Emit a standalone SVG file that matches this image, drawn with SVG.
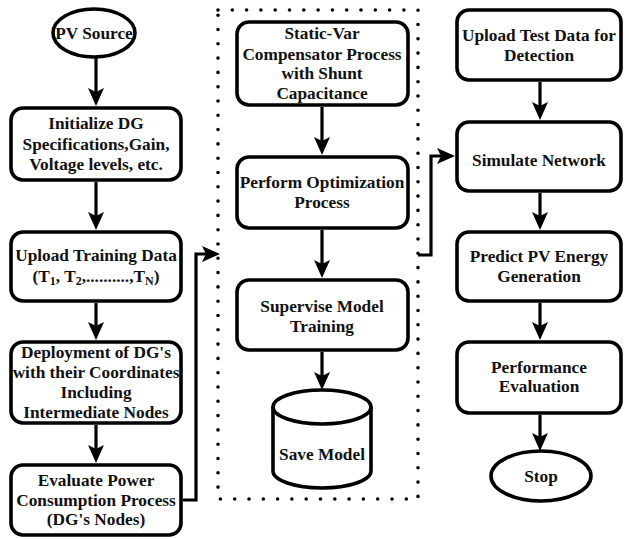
<svg xmlns="http://www.w3.org/2000/svg" width="625" height="539" viewBox="0 0 625 539">
<defs>
<style>
.box{fill:#fff;stroke:#000;stroke-width:3.6}
.t{font-family:'Liberation Serif','DejaVu Serif',serif;font-weight:700;font-size:17.3px;text-anchor:middle;fill:#111}
.sub{font-size:12px}
.c{fill:none;stroke:#000;stroke-width:3.2}
.dot{fill:none;stroke:#000;stroke-width:3.6;stroke-linecap:round;stroke-dasharray:0 14.3}
</style>
<marker id="ah" markerUnits="userSpaceOnUse" markerWidth="18" markerHeight="16" viewBox="0 0 18 16" refX="10" refY="8" orient="auto">
<path d="M0,0 L18,8 L0,16 L4,8 z" fill="#000"/>
</marker>
</defs>
<rect width="625" height="539" fill="#fff"/>

<g id="group-box">
<rect class="dot" x="218" y="10" width="200" height="489"/>
</g>

<g id="connectors">
<line class="c" x1="96" y1="57" x2="96" y2="98" marker-end="url(#ah)"/>
<line class="c" x1="96" y1="182" x2="96" y2="222" marker-end="url(#ah)"/>
<line class="c" x1="96" y1="303" x2="96" y2="332" marker-end="url(#ah)"/>
<line class="c" x1="96" y1="425" x2="96" y2="455" marker-end="url(#ah)"/>
<path class="c" d="M183 500 H196 V254 H212" marker-end="url(#ah)"/>
<line class="c" x1="322" y1="107" x2="322" y2="147" marker-end="url(#ah)"/>
<line class="c" x1="322" y1="230" x2="322" y2="270" marker-end="url(#ah)"/>
<line class="c" x1="322" y1="352" x2="322" y2="382" marker-end="url(#ah)"/>
<path class="c" d="M418 255 H431 V156 H447" marker-end="url(#ah)"/>
<line class="c" x1="540" y1="82" x2="540" y2="112" marker-end="url(#ah)"/>
<line class="c" x1="540" y1="193" x2="540" y2="222" marker-end="url(#ah)"/>
<line class="c" x1="540" y1="303" x2="540" y2="332" marker-end="url(#ah)"/>
<line class="c" x1="540" y1="415" x2="540" y2="443" marker-end="url(#ah)"/>
</g>

<g id="pv-source">
<ellipse class="box" cx="94" cy="33" rx="41" ry="24"/>
<text class="t" x="94" y="39">PV Source</text>
</g>

<g id="initialize">
<rect class="box" x="11" y="108" width="170" height="72" rx="12"/>
<text class="t" x="96" y="129">Initialize DG</text>
<text class="t" x="96" y="150">Specifications,Gain,</text>
<text class="t" x="96" y="170">Voltage levels, etc.</text>
</g>

<g id="upload-training">
<rect class="box" x="11" y="232" width="170" height="69" rx="12"/>
<text class="t" x="96" y="261">Upload Training Data</text>
<text class="t" x="96" y="282">(T<tspan class="sub" dy="3">1</tspan><tspan dy="-3">, T</tspan><tspan class="sub" dy="3">2</tspan><tspan dy="-3">,..........,T</tspan><tspan class="sub" dy="3">N</tspan><tspan dy="-3">)</tspan></text>
</g>

<g id="deployment">
<rect class="box" x="11" y="342" width="170" height="81" rx="12"/>
<text class="t" x="96" y="358">Deployment of DG's</text>
<text class="t" x="96" y="378">with their Coordinates</text>
<text class="t" x="96" y="398">Including</text>
<text class="t" x="96" y="418">Intermediate Nodes</text>
</g>

<g id="evaluate-power">
<rect class="box" x="11" y="465" width="170" height="70" rx="12"/>
<text class="t" x="96" y="486">Evaluate Power</text>
<text class="t" x="96" y="506">Consumption Process</text>
<text class="t" x="96" y="525">(DG's Nodes)</text>
</g>

<g id="static-var">
<rect class="box" x="237" y="22" width="171" height="83" rx="12"/>
<text class="t" x="322" y="39">Static-Var</text>
<text class="t" x="322" y="60">Compensator Process</text>
<text class="t" x="322" y="79">with Shunt</text>
<text class="t" x="322" y="99">Capacitance</text>
</g>

<g id="perform-optimization">
<rect class="box" x="237" y="157" width="171" height="71" rx="12"/>
<text class="t" x="322" y="188">Perform Optimization</text>
<text class="t" x="322" y="208">Process</text>
</g>

<g id="supervise">
<rect class="box" x="237" y="280" width="171" height="70" rx="12"/>
<text class="t" x="322" y="312">Supervise Model</text>
<text class="t" x="322" y="332">Training</text>
</g>

<g id="save-model">
<path class="box" d="M273 407 V471 A49 17 0 0 0 371 471 V407 A49 17 0 0 0 273 407 Z"/>
<path fill="none" stroke="#000" stroke-width="3.6" d="M273 407 A49 17 0 0 0 371 407"/>
<text class="t" x="322" y="460">Save Model</text>
</g>

<g id="upload-test">
<rect class="box" x="457" y="10" width="164" height="70" rx="12"/>
<text class="t" x="539" y="41">Upload Test Data for</text>
<text class="t" x="539" y="61">Detection</text>
</g>

<g id="simulate">
<rect class="box" x="457" y="122" width="164" height="69" rx="12"/>
<text class="t" x="539" y="166">Simulate Network</text>
</g>

<g id="predict">
<rect class="box" x="457" y="232" width="164" height="69" rx="12"/>
<text class="t" x="539" y="262">Predict PV Energy</text>
<text class="t" x="539" y="282">Generation</text>
</g>

<g id="performance">
<rect class="box" x="457" y="342" width="164" height="71" rx="12"/>
<text class="t" x="539" y="373">Performance</text>
<text class="t" x="539" y="392">Evaluation</text>
</g>

<g id="stop">
<ellipse class="box" cx="541" cy="476" rx="50" ry="25"/>
<text class="t" x="541" y="482">Stop</text>
</g>
</svg>
